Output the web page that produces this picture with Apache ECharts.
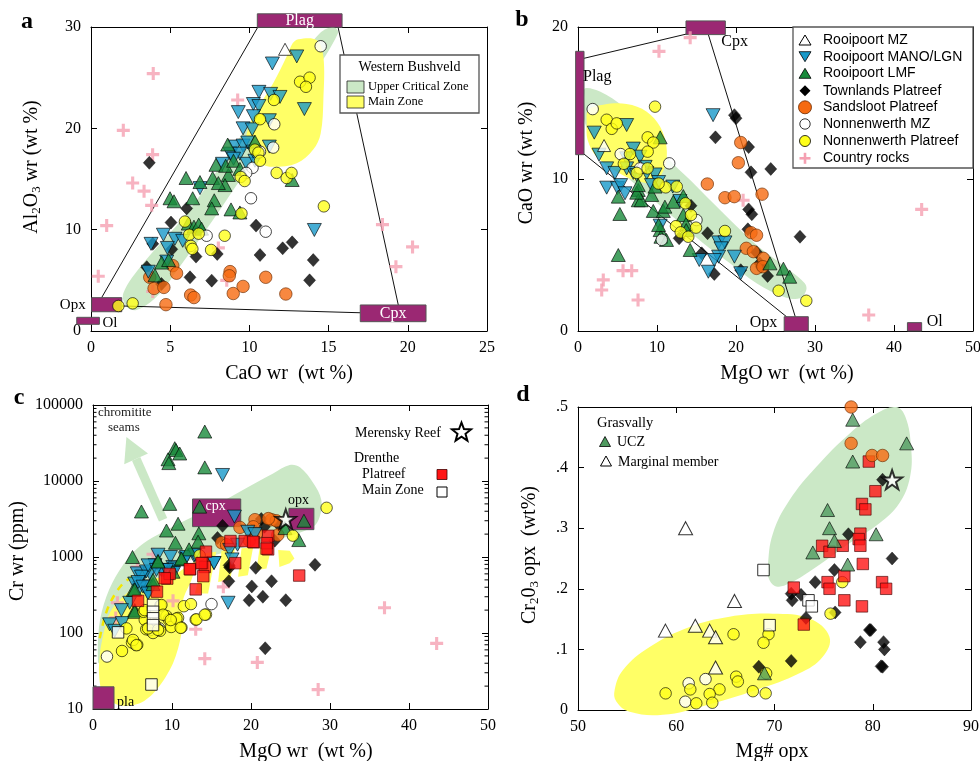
<!DOCTYPE html>
<html>
<head>
<meta charset="utf-8">
<script src="https://cdn.jsdelivr.net/npm/echarts/dist/echarts.min.js"></script>
<style>html,body{margin:0;padding:0;background:#fff}#chart{width:980px;height:761px}</style>
</head>
<body>
<div id="chart"></div>
<script>
// ---------- Panel a: Al2O3 vs CaO (wt %) ----------
const aCountry = [[3.93,25.4],[2.04,19.8],[3.89,17.4],[2.63,14.6],[3.35,13.8],[3.83,12.4],[0.99,10.4],[0.46,5.4],[3.9,3.9],[8.57,5.0],[8.04,8.2],[9.26,22.8],[18.4,10.5],[20.3,8.3],[19.25,6.35]];
const aRooiMZ = [[12.25,27.8]];
const aRooiMano = [[11.45,26.4],[12.99,27.1],[10.6,23.6],[11.34,23.4],[11.93,23.1],[10.25,22.4],[10.6,22.2],[9.3,21.6],[10.25,21.2],[11.26,20.8],[13.47,21.9],[9.6,20.0],[10.18,19.9],[9.09,18.2],[9.6,18.3],[9.9,18.6],[8.78,17.5],[9.4,17.5],[9.0,17.0],[9.83,16.5],[10.35,16.8],[11.26,18.2],[10.25,17.7],[8.3,16.5],[6.88,14.1],[4.57,9.5],[5.3,9.1],[5.79,8.9],[3.79,8.6],[4.82,8.2],[3.62,5.85],[4.78,6.85],[14.1,9.97]];
const aRooiLmf = [[6.0,15.1],[6.88,14.7],[4.99,13.1],[5.24,12.8],[6.42,13.1],[7.78,12.9],[7.62,12.1],[7.68,15.1],[7.89,16.4],[8.67,15.4],[8.46,14.4],[8.04,14.6],[8.63,18.4],[8.5,16.3],[9.0,16.8],[9.4,16.0],[10.35,18.7],[12.7,14.9],[6.14,10.6],[6.5,10.3],[6.8,10.5],[6.98,10.1],[8.84,12.0],[9.4,11.7],[4.46,6.75],[4.04,5.5],[4.9,7.0]];
const aTownlands = [[3.68,16.6],[6.04,12.1],[5.05,10.7],[5.1,8.06],[3.9,8.6],[3.52,6.3],[4.45,4.64],[6.63,7.34],[6.25,5.3],[7.62,4.97],[7.97,7.6],[10.42,10.4],[10.67,7.5],[12.1,8.16],[12.7,8.75],[14.03,7.0],[13.8,5.0]];
const aSandsloot = [[5.16,6.45],[5.4,5.7],[3.71,5.3],[3.98,4.2],[4.6,4.3],[4.73,2.6],[6.29,3.55],[6.5,3.3],[8.78,5.86],[8.73,5.45],[8.98,3.7],[9.6,4.4],[11.03,5.3],[12.3,3.65]];
const aNonMZ = [[14.5,28.1],[11.57,20.4],[11.5,18.1],[10.2,16.1],[9.8,15.6],[10.1,13.1],[11.03,9.8],[7.3,9.4],[10.67,17.7]];
const aNonPlat = [[13.2,24.6],[13.8,25.0],[13.57,24.1],[11.55,22.8],[10.67,20.9],[10.35,17.9],[10.57,17.6],[10.67,16.8],[11.72,15.6],[12.35,15.1],[12.66,15.6],[9.45,15.2],[9.7,14.8],[14.7,12.3],[5.93,10.8],[6.2,9.5],[6.8,9.6],[6.3,8.4],[6.4,8.1],[7.58,8.0],[8.44,9.4],[9.5,11.6],[1.73,2.47],[2.63,2.73]];
const aFieldUCZ = [[2.04,3.72],[3.3,6.68],[6.04,11.6],[8.57,17.2],[10.46,21.5],[12.77,26.1],[14.46,29.4],[15.3,30.0],[15.6,29.4],[13.8,24.8],[11.7,20.2],[9.83,15.9],[7.72,11.0],[5.6,6.35],[4.15,3.4],[2.88,2.07],[2.25,2.4]];
const aFieldMZ = [[13.09,28.8],[14.25,28.7],[14.67,27.1],[14.67,22.8],[14.5,19.5],[14.03,17.9],[12.99,16.55],[11.5,16.2],[10.67,16.55],[9.93,18.2],[9.83,19.5],[10.46,21.8],[11.5,24.45],[12.35,27.1],[12.73,28.4]];
const aTies = [[[10.5,29.9],[0.67,3.29]],[[15.6,29.97],[19.4,2.57]],[[1.94,2.47],[17.0,1.8]]];
const aBoxes = [
  {name:'Plag', x:[10.5,15.85], y:[29.97,31.3]},
  {name:'Opx', x:[0.04,1.94], y:[1.9,3.29]},
  {name:'Ol', x:[-0.9,0.53], y:[0.66,1.35]},
  {name:'Cpx', x:[17.0,21.15], y:[0.92,2.57]}
];

// ---------- Panel b: CaO vs MgO (wt %) ----------
const bCountry = [[14.2,19.3],[10.25,18.4],[20.9,8.6],[43.5,8.0],[36.8,1.05],[5.7,3.97],[6.8,3.97],[3.2,3.36],[3.0,2.7],[7.6,2.04]];
const bRooiMZ = [[3.3,12.2],[7.9,10.8]];
const bRooiMano = [[2.06,13.05],[6.16,13.55],[2.66,11.6],[3.63,10.7],[4.68,10.4],[3.63,9.43],[5.0,9.4],[5.4,9.6],[5.95,9.06],[6.16,11.36],[7.0,12.0],[7.85,11.47],[6.16,10.7],[7.0,10.4],[7.43,10.26],[8.7,10.4],[9.75,10.3],[10.2,9.8],[12.0,9.5],[12.9,8.55],[17.1,14.2],[10.4,6.93],[17.8,5.83],[18.6,5.83],[18.1,5.44],[17.8,4.89],[17.25,4.67],[15.35,4.67],[19.8,4.89],[16.5,3.9],[20.6,3.8],[9.3,9.6],[8.5,10.8]];
const bRooiLmf = [[10.4,12.74],[5.1,8.84],[7.63,9.28],[7.63,8.6],[8.0,8.6],[9.33,8.95],[9.75,9.5],[5.3,7.7],[5.1,5.0],[9.53,7.9],[10.8,7.9],[11.0,8.18],[12.06,8.5],[13.33,8.88],[13.33,7.63],[13.67,7.04],[14.2,5.33],[10.4,6.64],[10.5,6.2],[11.2,5.99],[10.2,6.97],[24.3,4.45],[26.0,4.1],[26.8,3.57],[7.43,9.1],[7.63,9.6],[13.7,6.64]];
const bTownlands = [[20.0,14.0],[19.8,14.2],[17.4,12.74],[21.6,12.1],[21.9,10.44],[24.4,10.66],[21.6,8.0],[22.0,7.68],[21.5,6.69],[28.1,6.2],[16.4,6.43],[14.3,8.24],[12.8,6.1],[15.66,5.11],[17.25,3.75],[20.6,4.0],[22.6,5.18],[23.0,4.45],[24.0,3.62],[23.2,4.23]];
const bSandsloot = [[20.6,12.4],[20.3,11.07],[16.37,9.67],[18.6,8.77],[19.78,8.84],[23.3,9.0],[21.9,6.47],[22.6,6.3],[21.3,5.44],[22.2,5.22],[23.46,4.78],[22.6,4.12],[23.4,4.23]];
const bNonMZ = [[1.86,14.6],[5.4,11.64],[11.55,11.03],[15.0,7.3],[7.85,10.7],[10.6,6.0]];
const bNonPlat = [[9.75,14.76],[3.63,13.9],[4.27,13.3],[4.9,13.66],[8.82,12.74],[9.53,12.4],[8.82,11.8],[6.58,11.64],[5.8,11.0],[8.8,10.7],[11.1,9.45],[12.5,9.5],[13.6,8.4],[14.3,7.63],[12.4,6.9],[13.0,6.49],[13.96,6.2],[14.94,6.8],[18.6,6.58],[25.4,2.65],[28.9,1.99],[7.43,10.4],[10.2,9.7]];
const bFieldUCZ = [[0.89,15.97],[2.78,15.75],[5.74,14.76],[8.7,13.2],[11.2,11.47],[14.2,9.93],[18.4,7.74],[22.6,5.66],[26.8,4.0],[28.7,3.14],[28.9,2.7],[28.1,2.15],[26.0,2.26],[22.6,3.14],[19.24,4.45],[15.86,5.77],[12.5,7.3],[9.11,8.84],[5.74,10.37],[2.37,12.35],[0.89,13.66],[0.8,15.4]];
const bFieldMZ = [[1.3,14.54],[3.2,14.89],[6.16,14.93],[8.7,14.43],[10.4,13.44],[11.2,12.12],[11.0,10.8],[9.75,9.82],[7.85,9.82],[5.3,10.37],[2.37,11.47],[1.22,12.57],[1.1,13.66]];
const bTies = [[[0.76,17.94],[13.75,19.54]],[[0.76,11.64],[26.4,0.94]],[[16.5,19.5],[27.5,0.94]]];
const bBoxes = [
  {name:'Plag', x:[-0.3,0.76], y:[11.6,18.4]},
  {name:'Cpx', x:[13.67,18.65], y:[19.5,20.4]},
  {name:'Opx', x:[26.1,29.15], y:[0,0.94]},
  {name:'Ol', x:[41.7,43.5], y:[0,0.55]}
];

// ---------- Panel c: Cr (ppm) vs MgO (wt %) ----------
const cCountry = [[7.6,1085],[5.62,740],[3.09,250],[2.88,158],[10.13,265],[16.5,405],[13.0,112],[14.15,46],[20.8,41],[28.5,18],[36.9,215],[43.5,73]];
const cRooiLmf = [[14.15,44700],[10.35,27000],[10.5,25600],[10.98,23000],[9.5,19300],[9.6,17200],[14.15,15100],[6.13,3970],[9.72,5000],[13.5,4600],[10.77,2740],[9.3,2230],[13.4,2050],[13.3,1590],[10.43,1540],[12.16,1260],[11.2,930],[5.0,1000],[8.23,890],[7.6,440],[5.28,200],[5.1,368],[24.3,2400],[26.7,3000],[26.05,1670],[10.13,640],[11.2,955],[7.6,500],[5.28,372],[5.28,190],[8.23,871]];
const cRooiMano = [[16.4,12000],[17.9,3400],[17.1,250],[17.3,1240],[17.6,930],[18.3,1450],[19.6,2150],[20.5,2000],[15.3,835],[12.8,1030],[11.7,960],[9.8,1000],[10.1,740],[8.9,670],[7.85,780],[7.2,610],[6.3,560],[5.6,610],[6.75,410],[5.9,390],[6.95,345],[4.65,250],[3.6,200],[2.1,130],[2.75,107],[3.7,135],[11.83,1000],[12.88,1072],[8.66,676],[10.35,708],[10.2,617],[6.76,646],[6.13,550],[5.28,447],[5.7,468],[6.33,407],[6.97,331],[8.23,1072],[6.97,776],[8.03,676],[9.3,676],[15.33,832]];
const cTownlands = [[16.4,2570],[15.76,1780],[17.3,730],[17.2,480],[20.6,720],[20.1,410],[19.76,270],[21.5,300],[22.6,480],[24.4,270],[28.1,790],[21.8,63],[21.3,3160],[21.7,2500],[23.0,1640],[23.6,2600],[17.23,776]];
const cSandsloot = [[18.6,2450],[20.5,3100],[20.3,2500],[20.7,2050],[16.3,1540],[16.9,1450],[22.6,3100],[23.2,3000],[23.4,1950],[19.8,1650],[22.2,3200]];
const cDrPlat = [[14.3,1175],[12.3,690],[13.86,830],[14.15,740],[13.96,560],[13.0,375],[17.4,1620],[19.2,1620],[20.36,1560],[22.17,1900],[22.17,1260],[18.0,830],[26.1,570],[8.1,350],[9.4,520],[9.7,600],[5.7,265],[22.0,1520],[13.73,832],[12.25,692],[9.08,525],[20.27,1585],[21.97,1288]];
const cDrMZ = [[7.4,21],[7.6,234],[7.6,190],[7.6,156],[7.6,127],[3.17,102]];
const cNonMZ = [[1.77,49],[15.0,240],[5.4,70],[7.2,109],[8.4,115],[7.8,117],[8.2,112]];
const cNonPlat = [[29.57,4440],[25.3,1910],[4.23,115],[3.67,58],[4.94,75],[5.6,70],[6.55,149],[6.4,190],[8.54,230],[9.3,167],[10.77,158],[11.2,118],[11.5,225],[12.4,240],[13.0,150],[14.3,175],[9.6,150],[9.9,120],[6.74,112],[7.8,130],[8.5,107],[7.6,100],[13.5,1050],[8.66,234],[6.55,200],[8.87,174],[10.56,155],[9.84,148],[13.1,151],[14.15,174],[11.1,117],[6.97,115],[8.23,110],[5.07,81],[5.5,69]];
const cMerensky = [[24.4,3160]];
const cFieldUCZ = [[0.63,42],[0.76,120],[1.7,302],[3.38,676],[5.92,1380],[10.13,2512],[14.37,4169],[18.58,7244],[22.8,12589],[24.9,16218],[26.2,15136],[27.9,9333],[28.9,5623],[28.7,3388],[27.9,2512],[25.3,1950],[21.97,1585],[17.7,1230],[14.37,1000],[11.83,871],[10.13,676],[8.03,447],[5.92,269],[3.8,120],[2.1,66],[0.85,40]];
const cFieldMZ = [[1.06,72],[2.1,182],[4.23,331],[7.18,501],[10.13,575],[11.83,741],[13.1,871],[12.47,501],[11.4,269],[11.2,100],[10.13,40],[8.03,17.8],[5.92,11.9],[3.38,11.2],[1.27,15.8],[0.76,29.5],[0.85,49]];
const cFieldMZBands = [
  [[14.14,1122],[15.6,1175],[14.57,331],[12.9,331]],
  [[16.26,1211],[17.95,1259],[17.4,501],[15.84,468]],
  [[18.8,1300],[20.27,1330],[19.6,575],[18.37,550]],
  [[21.1,1343],[22.6,1343],[21.96,708],[20.7,676]],
  [[23.44,1236],[24.9,1211],[25.5,955],[24.9,826],[23.6,741]]
];
const cFieldMZEdge = [[0.85,85],[1.48,162],[2.33,269],[3.8,447],[5.92,617],[8.45,708],[10.56,708]];
const cArrow = [[8.87,3090],[4.23,38019]];
const cBoxes = [
  {name:'cpx', x:[12.6,18.7], y:[2510,5800]},
  {name:'opx', x:[24.8,27.96], y:[2290,4370]},
  {name:'pla', x:[0,2.66], y:[10,19.6]}
];
const cMinorTicks = [];
for (let d = 10; d < 100000; d *= 10) for (let m = 2; m <= 9; m++) cMinorTicks.push(d * m);

// ---------- Panel d: Cr2O3 opx vs Mg# opx ----------
const dSandsloot = [[77.8,0.5],[77.8,0.44],[79.93,0.42],[81.0,0.42]];
const dUCZ = [[77.96,0.479],[83.45,0.44],[77.96,0.41],[75.4,0.33],[75.6,0.3],[76.1,0.279],[80.34,0.29],[73.9,0.26],[77.45,0.24],[68.98,0.0605]];
const dMarginal = [[60.95,0.3],[65.93,0.18],[61.94,0.139],[58.9,0.131],[63.4,0.131],[64.0,0.12],[64.0,0.07]];
const dTownlands = [[77.52,0.29],[81.0,0.38],[81.97,0.25],[76.1,0.231],[74.14,0.211],[71.7,0.192],[72.7,0.19],[71.8,0.181],[73.2,0.152],[76.17,0.161],[79.66,0.132],[78.74,0.112],[81.1,0.112],[81.19,0.1],[81.0,0.0714],[71.7,0.081],[68.4,0.0714],[79.8,0.132],[80.85,0.072]];
const dDrPlat = [[79.6,0.41],[80.27,0.361],[78.9,0.34],[79.25,0.331],[78.74,0.291],[78.57,0.282],[78.74,0.271],[76.94,0.271],[74.85,0.271],[75.6,0.261],[78.99,0.241],[77.11,0.221],[75.4,0.211],[75.6,0.2],[71.96,0.202],[80.95,0.211],[81.36,0.2],[77.11,0.181],[78.9,0.171],[72.98,0.141]];
const dDrMZ = [[68.88,0.231],[73.46,0.181],[73.8,0.171],[69.5,0.14]];
const dNonPlat = [[76.9,0.211],[75.7,0.159],[65.83,0.125],[69.39,0.125],[68.88,0.111],[69.15,0.0605],[66.1,0.055],[66.27,0.047],[64.4,0.034],[61.43,0.034],[58.92,0.0275],[63.4,0.0264],[63.67,0.012],[62.04,0.011],[67.8,0.031],[69.1,0.0275]];
const dNonMZ = [[61.26,0.044],[62.98,0.051],[60.92,0.0137]];
const dMerensky = [[81.97,0.38]];
const dFieldUCZ = [[69.32,0.236],[69.83,0.291],[71.52,0.346],[74.24,0.401],[77.63,0.456],[80.34,0.489],[82.37,0.5],[83.32,0.484],[83.9,0.434],[83.8,0.385],[82.7,0.341],[80.68,0.308],[77.63,0.275],[74.24,0.236],[71.52,0.209],[70.17,0.204],[69.42,0.217]];
const dFieldMZ = [[53.73,0.033],[54.58,0.066],[57.29,0.104],[61.36,0.137],[65.42,0.154],[69.83,0.159],[73.56,0.151],[75.59,0.121],[74.91,0.088],[72.54,0.0605],[68.14,0.033],[63.05,0.008],[58.64,-0.008],[55.26,-0.003],[53.9,0.014]];

// ---------- styles ----------
const SERIF = '"Liberation Serif","DejaVu Serif",serif';
const SANS = '"Liberation Sans","DejaVu Sans",Arial,sans-serif';
const C = {
  blue:'#1899c9', green:'#198a3b', greenD:'#4f9a5f', orange:'#f66a10', yellow:'#ffff1a',
  red:'#ff1414', pink:'#f5a0b2', box:'#9b2873', fieldG:'#cbe8c6', fieldY:'#ffff66'
};
const CROSS = 'path://M3.8,0H6.2V3.8H10V6.2H6.2V10H3.8V6.2H0V3.8H3.8Z';
const STAR = 'path://M50,0L61.8,35.3L98.1,35.3L68.8,57.1L79.4,91.4L50,70.2L20.6,91.4L31.2,57.1L1.9,35.3L38.2,35.3Z';
const ST = {
  country:{symbol:CROSS, symbolSize:13, itemStyle:{color:C.pink, borderWidth:0}},
  rooiMZ:{symbol:'triangle', symbolSize:[13,12], itemStyle:{color:'#fff', borderColor:'#000', borderWidth:0.9}},
  mano:{symbol:'triangle', symbolRotate:180, symbolSize:[14,13], itemStyle:{color:C.blue, borderColor:'#000', borderWidth:0.8}},
  lmf:{symbol:'triangle', symbolSize:[14,13], itemStyle:{color:C.green, borderColor:'#000', borderWidth:0.8}},
  ucz:{symbol:'triangle', symbolSize:[14,13], itemStyle:{color:C.greenD, borderColor:'#000', borderWidth:0.8}},
  marginal:{symbol:'triangle', symbolSize:[14,13], itemStyle:{color:'#fff', borderColor:'#000', borderWidth:1}},
  townlands:{symbol:'diamond', symbolSize:[12,13], itemStyle:{color:'#000', borderColor:'#000', borderWidth:0.5}},
  sandsloot:{symbol:'circle', symbolSize:12.5, itemStyle:{color:C.orange, borderColor:'#6a2a00', borderWidth:0.8}},
  nonMZ:{symbol:'circle', symbolSize:11.5, itemStyle:{color:'#fff', borderColor:'#000', borderWidth:0.9}},
  nonPlat:{symbol:'circle', symbolSize:11.5, itemStyle:{color:C.yellow, borderColor:'#000', borderWidth:0.8}},
  drPlat:{symbol:'rect', symbolSize:11.5, itemStyle:{color:C.red, borderColor:'#400', borderWidth:0.8}},
  drMZ:{symbol:'rect', symbolSize:11.5, itemStyle:{color:'#fff', borderColor:'#000', borderWidth:1}},
  merensky:{symbol:STAR, symbolSize:[20,19], itemStyle:{color:'#fff', borderColor:'#000', borderWidth:2}}
};

// label placement of the mineral boxes: anchor corner (l/c/r, t/m/b) + offset
const BOX_LABEL = {
  a:{Plag:{ax:'c',ay:'m',dx:0,dy:0,align:'center',color:'#fff',size:16},
     Cpx:{ax:'c',ay:'m',dx:0,dy:0,align:'center',color:'#fff',size:16},
     Opx:{ax:'l',ay:'m',dx:-6,dy:0,align:'right',color:'#000',size:15},
     Ol:{ax:'r',ay:'m',dx:3,dy:2,align:'left',color:'#000',size:15}},
  b:{Plag:{ax:'r',ay:'t',dx:-1,dy:25,align:'left',color:'#000',size:16},
     Cpx:{ax:'r',ay:'b',dx:-4,dy:7,align:'left',color:'#000',size:16},
     Opx:{ax:'l',ay:'m',dx:-7,dy:-1,align:'right',color:'#000',size:16},
     Ol:{ax:'r',ay:'m',dx:5,dy:-5,align:'left',color:'#000',size:16}},
  c:{cpx:{ax:'l',ay:'t',dx:13,dy:7,align:'left',color:'#fff',size:14},
     opx:{ax:'l',ay:'t',dx:-1,dy:-8,align:'left',color:'#000',size:14},
     pla:{ax:'r',ay:'b',dx:3,dy:-7,align:'left',color:'#000',size:14}}
};

// ---------- builders ----------
const series = [];
function scatter(k, data, style) {
  series.push(Object.assign({type:'scatter', xAxisIndex:2*k, yAxisIndex:2*k, data:data, clip:false, silent:true}, style));
}
function custom(k, anchor, build) {
  series.push({type:'custom', xAxisIndex:2*k, yAxisIndex:2*k, clip:false, silent:true,
    data:[anchor], renderItem:function (params, api) { return build(api); }});
}
function polygon(k, anchor, pts, fill, smooth) {
  custom(k, anchor, api => ({type:'polygon', shape:{points:pts.map(p => api.coord(p)), smooth:smooth || 0}, style:{fill:fill}}));
}
function ties(k, anchor, segs) {
  custom(k, anchor, api => ({type:'group', children:segs.map(s => {
    const p = api.coord(s[0]), q = api.coord(s[1]);
    return {type:'line', shape:{x1:p[0], y1:p[1], x2:q[0], y2:q[1]}, style:{stroke:'#111', lineWidth:1}};
  })}));
}
function boxes(k, anchor, list, labels) {
  custom(k, anchor, api => {
    const ch = [];
    list.forEach(b => {
      const p1 = api.coord([b.x[0], b.y[1]]), p2 = api.coord([b.x[1], b.y[0]]);
      const l = p1[0], t = p1[1], r = p2[0], bt = p2[1];
      ch.push({type:'rect', shape:{x:l, y:t, width:r - l, height:bt - t}, style:{fill:C.box, stroke:'#555', lineWidth:1}});
      const s = labels[b.name];
      const ax = s.ax === 'l' ? l : s.ax === 'r' ? r : (l + r) / 2;
      const ay = s.ay === 't' ? t : s.ay === 'b' ? bt : (t + bt) / 2;
      ch.push({type:'text', x:ax + s.dx, y:ay + s.dy, style:{text:b.name, fill:s.color,
        font:s.size + 'px ' + SERIF, align:s.align, verticalAlign:'middle'}});
    });
    return {type:'group', children:ch};
  });
}

// panel a
polygon(0, [0,0], aFieldUCZ, C.fieldG, 0.35);
polygon(0, [0,0], aFieldMZ, C.fieldY, 0.35);
ties(0, [0,0], aTies);
boxes(0, [0,0], aBoxes, BOX_LABEL.a);
scatter(0, aCountry, ST.country);
scatter(0, aTownlands, ST.townlands);
scatter(0, aSandsloot, ST.sandsloot);
scatter(0, aRooiMano, ST.mano);
scatter(0, aRooiLmf, ST.lmf);
scatter(0, aRooiMZ, ST.rooiMZ);
scatter(0, aNonMZ, ST.nonMZ);
scatter(0, aNonPlat, ST.nonPlat);

// panel b
polygon(1, [0,0], bFieldUCZ, C.fieldG, 0.35);
polygon(1, [0,0], bFieldMZ, C.fieldY, 0.35);
ties(1, [0,0], bTies);
boxes(1, [0,0], bBoxes, BOX_LABEL.b);
scatter(1, bCountry, ST.country);
scatter(1, bTownlands, ST.townlands);
scatter(1, bSandsloot, ST.sandsloot);
scatter(1, bRooiMano, ST.mano);
scatter(1, bRooiLmf, ST.lmf);
scatter(1, bRooiMZ, ST.rooiMZ);
scatter(1, bNonMZ, ST.nonMZ);
scatter(1, bNonPlat, ST.nonPlat);

// panel c
polygon(2, [1,100], cFieldUCZ, C.fieldG, 0.35);
polygon(2, [1,100], cFieldMZ, C.fieldY, 0.3);
cFieldMZBands.forEach(q => polygon(2, [1,100], q, C.fieldY, 0));
custom(2, [1,100], api => ({type:'polyline', shape:{points:cFieldMZEdge.map(p => api.coord(p)), smooth:0.3},
  style:{stroke:'#f2e600', lineWidth:2.5, lineDash:[7,6], fill:null}}));
custom(2, [1,100], api => {
  const tail = api.coord(cArrow[0]), tip = api.coord(cArrow[1]);
  const dx = tip[0] - tail[0], dy = tip[1] - tail[1], len = Math.hypot(dx, dy);
  const ux = dx / len, uy = dy / len, head = 24, half = 13;
  const bx = tip[0] - ux * head, by = tip[1] - uy * head;
  return {type:'group', children:[
    {type:'line', shape:{x1:tail[0], y1:tail[1], x2:bx, y2:by}, style:{stroke:C.fieldG, lineWidth:9}},
    {type:'polygon', shape:{points:[tip, [bx - uy * half, by + ux * half], [bx + uy * half, by - ux * half]]}, style:{fill:C.fieldG}}
  ]};
});
custom(2, [1,100], api => {
  const ch = [];
  cMinorTicks.forEach(v => {
    const l = api.coord([0, v]), r = api.coord([50, v]);
    ch.push({type:'line', shape:{x1:l[0], y1:l[1], x2:l[0] + 3.5, y2:l[1]}, style:{stroke:'#000', lineWidth:1}});
    ch.push({type:'line', shape:{x1:r[0], y1:r[1], x2:r[0] - 3.5, y2:r[1]}, style:{stroke:'#000', lineWidth:1}});
  });
  return {type:'group', children:ch};
});
boxes(2, [1,100], cBoxes, BOX_LABEL.c);
scatter(2, cCountry, ST.country);
scatter(2, cTownlands, ST.townlands);
scatter(2, cSandsloot, ST.sandsloot);
scatter(2, cRooiMano, ST.mano);
scatter(2, cRooiLmf, ST.lmf);
scatter(2, cNonMZ, ST.nonMZ);
scatter(2, cNonPlat, ST.nonPlat);
scatter(2, cDrMZ, ST.drMZ);
scatter(2, cDrPlat, ST.drPlat);
scatter(2, cMerensky, ST.merensky);

// panel d
polygon(3, [60,0.1], dFieldUCZ, C.fieldG, 0.4);
polygon(3, [60,0.1], dFieldMZ, C.fieldY, 0.4);
scatter(3, dTownlands, ST.townlands);
scatter(3, dNonMZ, ST.nonMZ);
scatter(3, dNonPlat, ST.nonPlat);
scatter(3, dDrMZ, ST.drMZ);
scatter(3, dDrPlat, ST.drPlat);
scatter(3, dSandsloot, ST.sandsloot);
scatter(3, dUCZ, ST.ucz);
scatter(3, dMarginal, ST.marginal);
scatter(3, dMerensky, ST.merensky);

// ---------- grids & axes ----------
const grids = [
  {left:91, top:27, width:396, height:304},
  {left:578, top:27, width:395, height:304},
  {left:93, top:405, width:395, height:304},
  {left:578, top:407, width:393, height:303}
].map(g => Object.assign({containLabel:false, outerBoundsMode:'none', show:false}, g));

const xAxis = [], yAxis = [];
const line = {onZero:false, lineStyle:{color:'#000', width:1}};
const tick = {inside:true, length:6, lineStyle:{color:'#000', width:1}};
const lab = (m, f) => Object.assign({color:'#000', fontFamily:SERIF, fontSize:16, margin:m}, f ? {formatter:f} : {});
function axisPair(k, xc, yc) {
  xAxis.push(Object.assign({gridIndex:k, position:'bottom', axisLine:line, axisTick:tick, splitLine:{show:false}, axisLabel:lab(9)}, xc));
  xAxis.push(Object.assign({gridIndex:k, position:'top', axisLine:line, axisTick:tick, splitLine:{show:false}, axisLabel:{show:false}}, xc));
  yAxis.push(Object.assign({gridIndex:k, position:'left', axisLine:line, axisTick:tick, splitLine:{show:false}, axisLabel:lab(10, yc.fmt)}, yc.ax));
  yAxis.push(Object.assign({gridIndex:k, position:'right', axisLine:line, axisTick:tick, splitLine:{show:false}, axisLabel:{show:false}}, yc.ax));
}
axisPair(0, {type:'value', min:0, max:25, interval:5}, {ax:{type:'value', min:0, max:30, interval:10}});
axisPair(1, {type:'value', min:0, max:50, interval:10}, {ax:{type:'value', min:0, max:20, interval:10}});
axisPair(2, {type:'value', min:0, max:50, interval:10}, {ax:{type:'log', logBase:10, min:10, max:100000}, fmt:v => String(Math.round(v))});
axisPair(3, {type:'value', min:50, max:90, interval:10}, {ax:{type:'value', min:0, max:0.5, interval:0.1},
  fmt:v => v === 0 ? '0' : v.toFixed(1).replace(/^0/, '')});

// ---------- texts & legends ----------
const G = [];
const Z = 100;
function txt(x, y, text, font, opt) {
  G.push(Object.assign({type:'text', x:x, y:y, z:Z, silent:true,
    style:Object.assign({text:text, font:font, fill:'#000', align:'left', verticalAlign:'middle'}, opt && opt.style)}, opt && opt.el));
}
const sub = {fontSize:13, fontFamily:SERIF, lineHeight:6, verticalAlign:'bottom'};
const big = {fontSize:20, fontFamily:SERIF, lineHeight:22};
function rot(x, y, text) {
  G.push({type:'text', x:x, y:y, z:Z, rotation:Math.PI / 2, silent:true,
    style:{text:text, align:'center', verticalAlign:'middle', fill:'#000', font:'20px ' + SERIF, rich:{s:sub, n:big}}});
}
// panel letters
txt(27, 22, 'a', 'bold 24px ' + SERIF, {style:{align:'center'}});
txt(522, 20, 'b', 'bold 24px ' + SERIF, {style:{align:'center'}});
txt(19, 398, 'c', 'bold 24px ' + SERIF, {style:{align:'center'}});
txt(523, 395, 'd', 'bold 24px ' + SERIF, {style:{align:'center'}});
// axis titles
txt(289, 374, 'CaO wr  (wt %)', '20px ' + SERIF, {style:{align:'center'}});
txt(787, 374, 'MgO wr  (wt %)', '20px ' + SERIF, {style:{align:'center'}});
txt(306, 752, 'MgO wr  (wt %)', '20px ' + SERIF, {style:{align:'center'}});
txt(772, 752, 'Mg# opx', '20px ' + SERIF, {style:{align:'center'}});
rot(32, 167, '{n|Al}{s|2}{n|O}{s|3}{n| wr (wt %)}');
rot(527, 163, '{n|CaO wr (wt %)}');
rot(18, 551, '{n|Cr wr (ppm)}');
rot(530, 555, '{n|Cr}{s|2}{n|0}{s|3}{n| opx  (wt%)}');

// legend shapes
function tri(cx, cy, w, h, fill, down, lw) {
  const p = down ? [[cx - w / 2, cy - h / 2], [cx + w / 2, cy - h / 2], [cx, cy + h / 2]]
                 : [[cx, cy - h / 2], [cx + w / 2, cy + h / 2], [cx - w / 2, cy + h / 2]];
  G.push({type:'polygon', z:Z, silent:true, shape:{points:p}, style:{fill:fill, stroke:'#000', lineWidth:lw || 0.8}});
}
function dia(cx, cy, w, h) {
  G.push({type:'polygon', z:Z, silent:true, shape:{points:[[cx, cy - h / 2], [cx + w / 2, cy], [cx, cy + h / 2], [cx - w / 2, cy]]}, style:{fill:'#000'}});
}
function circ(cx, cy, r, fill, stroke) {
  G.push({type:'circle', z:Z, silent:true, shape:{cx:cx, cy:cy, r:r}, style:{fill:fill, stroke:stroke || '#000', lineWidth:0.8}});
}
function rect(x, y, w, h, fill, stroke, lw) {
  G.push({type:'rect', z:Z, silent:true, shape:{x:x, y:y, width:w, height:h}, style:{fill:fill, stroke:stroke, lineWidth:lw}});
}
function cross(cx, cy, s, t) {
  rect(cx - t / 2, cy - s / 2, t, s, C.pink, null, 0);
  rect(cx - s / 2, cy - t / 2, s, t, C.pink, null, 0);
}
function star(cx, cy, R) {
  const p = [];
  for (let i = 0; i < 10; i++) {
    const a = -Math.PI / 2 + i * Math.PI / 5, r = i % 2 ? R * 0.42 : R;
    p.push([cx + r * Math.cos(a), cy + r * Math.sin(a)]);
  }
  G.push({type:'polygon', z:Z, silent:true, shape:{points:p}, style:{fill:'#fff', stroke:'#000', lineWidth:2}});
}

// legend a
rect(340, 55, 139, 58, '#fff', '#555', 1.3);
txt(409.5, 67.5, 'Western Bushveld', '14px ' + SERIF, {style:{align:'center'}});
rect(347, 81, 17, 12, C.fieldG, '#222', 0.8);
rect(347, 96, 17, 12, C.fieldY, '#222', 0.8);
txt(368, 87, 'Upper Critical Zone', '12.5px ' + SERIF);
txt(368, 102, 'Main Zone', '12.5px ' + SERIF);

// legend b
rect(793, 27, 180, 141, '#fff', '#555', 1.3);
const bRows = [40, 56.7, 73.3, 90.7, 107.3, 124, 141, 158.3];
const bNames = ['Rooipoort MZ', 'Rooipoort MANO/LGN', 'Rooipoort LMF', 'Townlands Platreef', 'Sandsloot Platreef', 'Nonnenwerth MZ', 'Nonnenwerth Platreef', 'Country rocks'];
tri(805, bRows[0], 12, 10, '#fff', false, 1);
tri(805, bRows[1], 12, 10, C.blue, true);
tri(805, bRows[2], 12, 10, C.green, false);
dia(805, bRows[3], 11, 11);
circ(805, bRows[4], 6.5, C.orange, '#6a2a00');
circ(805, bRows[5], 5.2, '#fff');
circ(805, bRows[6], 5.5, C.yellow);
cross(805, bRows[7], 11, 2.6);
bNames.forEach((n, i) => txt(823, bRows[i], n, '14px ' + SANS));

// legend c
txt(98, 413, 'chromitite', '13px ' + SERIF, {style:{fill:'#222'}});
txt(108, 428, 'seams', '13px ' + SERIF, {style:{fill:'#222'}});
txt(355, 433, 'Merensky Reef', '14px ' + SERIF);
star(461.5, 432.5, 10);
txt(354, 458, 'Drenthe', '14px ' + SERIF);
txt(362, 474, 'Platreef', '14px ' + SERIF);
txt(362, 490, 'Main Zone', '14px ' + SERIF);
rect(437, 469.5, 10, 10, C.red, '#400', 0.8);
rect(437, 487, 10, 10, '#fff', '#000', 1);

// legend d
txt(597, 423, 'Grasvally', '14.5px ' + SERIF);
tri(605, 441.5, 11, 10, C.greenD, false);
txt(617, 442, 'UCZ', '14px ' + SERIF);
tri(606, 461, 11, 10, '#fff', false, 1);
txt(618, 462, 'Marginal member', '14px ' + SERIF);

const chart = echarts.init(document.getElementById('chart'), null, {renderer:'canvas'});
chart.setOption({
  animation:false,
  backgroundColor:'#fff',
  textStyle:{fontFamily:SERIF},
  grid:grids,
  xAxis:xAxis,
  yAxis:yAxis,
  series:series,
  graphic:{elements:G}
});
</script>
</body>
</html>
